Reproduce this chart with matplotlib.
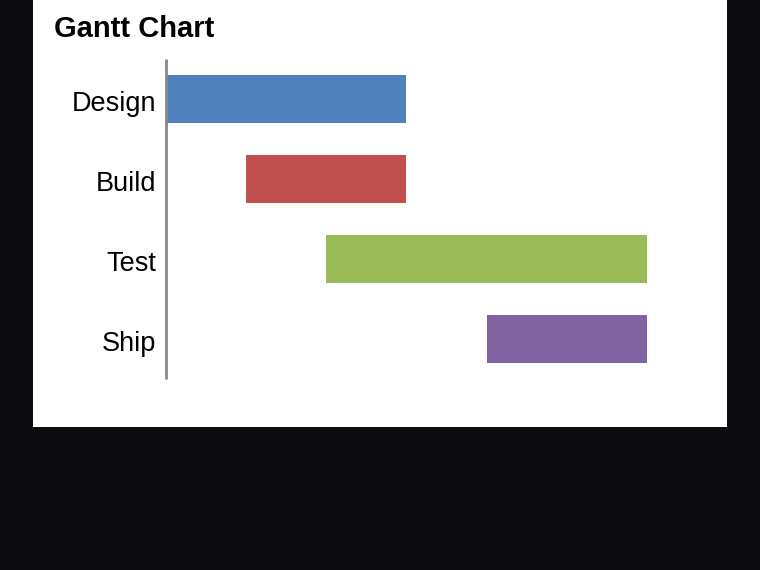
import matplotlib; matplotlib.use("Agg")
import matplotlib.pyplot as plt
import matplotlib.transforms as mtransforms
from matplotlib.patches import Rectangle

tasks = ["Design", "Build", "Test", "Ship"]
starts = [0, 1, 2, 4]
ends = [3, 3, 6, 6]
colors = ["#4f81bd", "#c0504d", "#9bbb59", "#8064a2"]

plt.rcParams["font.family"] = ["Liberation Sans", "DejaVu Sans"]

W, H = 760, 570
fig = plt.figure(figsize=(7.6, 5.7), dpi=100, facecolor="#0c0c10")
fig.patches.append(Rectangle((33/W, 1-427/H), (727-33)/W, 427/H, transform=fig.transFigure,
                             facecolor="white", edgecolor="none", zorder=-5))

ax = fig.add_axes([166/W, 1-379/H, (727-166)/W, (379-59)/H])
ax.set_zorder(2)
ax.set_facecolor("none")
durs = [e-s for s, e in zip(starts, ends)]
ax.barh(range(len(tasks)), durs, left=starts, height=0.6, color=colors)
ax.set_ylim(len(tasks)-0.5, -0.5)
ax.set_xlim(0, 7)
ax.set_yticks(range(len(tasks)), tasks, fontsize=19.5)
ax.tick_params(axis="y", length=0, pad=7)
ax.set_xticks([])
# nudge the task labels down a touch
off = mtransforms.ScaledTranslation(0, -2/100, fig.dpi_scale_trans)
for lab in ax.get_yticklabels():
    lab.set_transform(lab.get_transform() + off)
for s in ["top", "right", "bottom"]:
    ax.spines[s].set_visible(False)
ax.spines["left"].set_color("#888888")
ax.spines["left"].set_linewidth(2)
ax.spines["left"].set_capstyle("butt")

fig.text(54/W, 1-37/H, "Gantt Chart", fontsize=21, fontweight="bold", ha="left", va="baseline")

fig.savefig("out.png", dpi=100, facecolor=fig.get_facecolor())
